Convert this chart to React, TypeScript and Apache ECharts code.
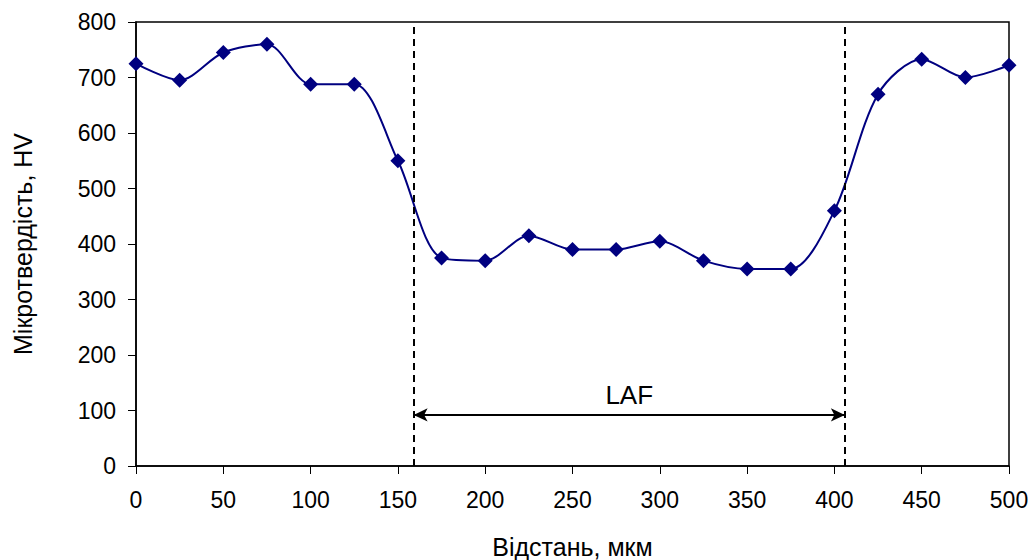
import React, { useEffect, useRef } from "react";
import * as echarts from "echarts";

const distances = [0, 25, 50, 75, 100, 125, 150, 175, 200, 225, 250, 275, 300, 325, 350, 375, 400, 425, 450, 475, 500];
const hardness = [725, 695, 745, 760, 688, 688, 550, 375, 370, 415, 390, 390, 405, 370, 355, 355, 460, 670, 733, 700, 722];
const lafStart = 159;
const lafEnd = 406;
const lafArrowLevel = 92;
const lafLabel = "LAF";

export default function App() {
  const ref = useRef<HTMLDivElement>(null);
  useEffect(() => {
    if (!ref.current) return;
    const chart = echarts.init(ref.current, null, { renderer: "svg" });
    const font = "Liberation Sans, Arial, sans-serif";
    chart.setOption({
      animation: false,
      grid: {
        left: 136, top: 22, right: 25, bottom: 94,
        outerBoundsMode: "none",
        containLabel: false,
        show: true, borderColor: "#000", borderWidth: 1.5, backgroundColor: "#fff",
      },
      xAxis: {
        type: "value", min: 0, max: 500, interval: 50,
        name: "Відстань, мкм", nameLocation: "middle", nameGap: 68,
        nameTextStyle: { fontFamily: font, fontSize: 25, color: "#000" },
        axisLine: { show: true, lineStyle: { color: "#000", width: 1.5 } },
        axisTick: { show: true, inside: false, length: 8, lineStyle: { color: "#000" } },
        axisLabel: { fontFamily: font, fontSize: 23, color: "#000", margin: 22 },
        splitLine: { show: false },
      },
      yAxis: {
        type: "value", min: 0, max: 800, interval: 100,
        name: "Мікротвердість, HV", nameLocation: "middle", nameGap: 101,
        nameTextStyle: { fontFamily: font, fontSize: 25, color: "#000" },
        axisLine: { show: true, lineStyle: { color: "#000", width: 1.5 } },
        axisTick: { show: true, inside: false, length: 8, lineStyle: { color: "#000" } },
        axisLabel: { fontFamily: font, fontSize: 23, color: "#000", margin: 20 },
        splitLine: { show: false },
      },
      series: [
        {
          type: "line",
          data: distances.map((d, i) => [d, hardness[i]]),
          smooth: 0.3,
          symbol: "diamond",
          symbolSize: 15,
          itemStyle: { color: "#000080" },
          lineStyle: { color: "#000080", width: 2 },
          z: 3,
          markLine: {
            silent: true,
            animation: false,
            symbol: ["none", "none"],
            label: { show: false },
            lineStyle: { type: [7, 5], color: "#000", width: 2 },
            data: [
              { xAxis: lafStart },
              { xAxis: lafEnd },
              [
                {
                  coord: [lafStart, lafArrowLevel], symbol: "arrow", symbolSize: [10, 14],
                  lineStyle: { type: "solid", color: "#000", width: 2 },
                  label: {
                    show: true, position: "middle", formatter: lafLabel,
                    fontFamily: font, fontSize: 26, color: "#000", distance: 7,
                  },
                },
                { coord: [lafEnd, lafArrowLevel], symbol: "arrow", symbolSize: [10, 14] },
              ],
            ],
          },
        },
      ],
    });
    return () => chart.dispose();
  }, []);
  return <div ref={ref} style={{ width: 1034, height: 560, position: "absolute", left: 0, top: 0 }} />;
}
